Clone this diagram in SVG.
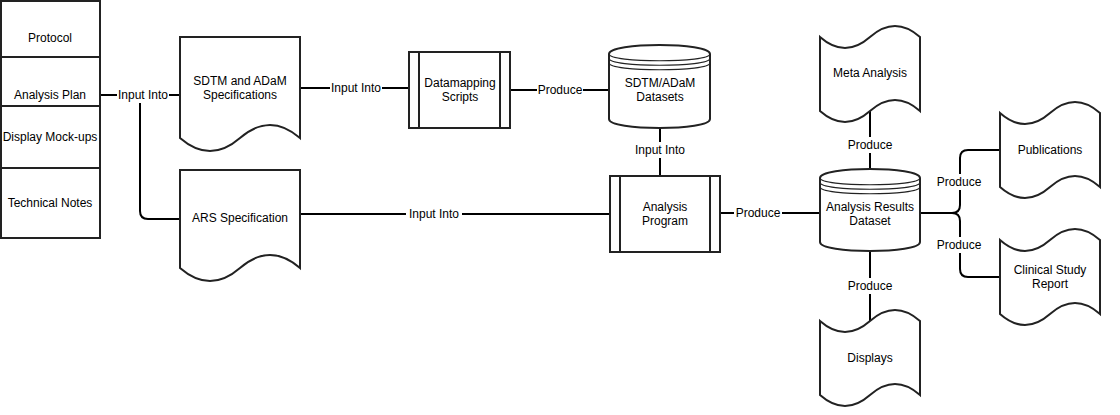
<svg xmlns="http://www.w3.org/2000/svg" width="1120" height="415" viewBox="0 0 1120 415">
<style>
.s{fill:#fff;stroke:#222;stroke-width:2}
.l{fill:none;stroke:#222;stroke-width:2}
.e{fill:none;stroke:#222;stroke-width:1.2}
.c{fill:none;stroke:#000;stroke-width:2}
text{font-family:"Liberation Sans",Arial,sans-serif;font-size:12px;fill:#000;text-anchor:middle}
.bg{fill:#fff}
</style>
<defs>
<path id="tape" d="M0,0 Q25,22 50,0 Q75,-22 100,0 V74 Q75,52 50,74 Q25,96 0,74 Z"/>
</defs>
<rect width="1120" height="415" fill="#fff"/>
<g id="connectors">
<path class="c" d="M100,95 H180"/>
<path class="c" d="M140,95 V211 Q140,219 148,219 H180"/>
<path class="c" d="M300,88 H409"/>
<path class="c" d="M510,90 H609"/>
<path class="c" d="M660,128 V176"/>
<path class="c" d="M300,214 H610"/>
<path class="c" d="M720,213 H820"/>
<path class="c" d="M870,111 V169"/>
<path class="c" d="M870,251 V321"/>
<path class="c" d="M920,213 H952 Q960,213 960,205 V158 Q960,150 968,150 H1000"/>
<path class="c" d="M952,213 Q960,213 960,221 V269 Q960,277 968,277 H1000"/>
<g>
<rect class="bg" x="117" y="87" width="52" height="16"/><text x="143" y="99">Input Into</text>
<rect class="bg" x="330" y="80" width="52" height="16"/><text x="356" y="92">Input Into</text>
<rect class="bg" x="537" y="82" width="46" height="16"/><text x="560" y="94">Produce</text>
<rect class="bg" x="634" y="142" width="52" height="16"/><text x="660" y="154">Input Into</text>
<rect class="bg" x="406" y="206" width="56" height="16"/><text x="434" y="218">Input Into</text>
<rect class="bg" x="734" y="205" width="48" height="16"/><text x="758" y="217">Produce</text>
<rect class="bg" x="847" y="137" width="46" height="16"/><text x="870" y="149">Produce</text>
<rect class="bg" x="847" y="278" width="46" height="16"/><text x="870" y="290">Produce</text>
<rect class="bg" x="936" y="174" width="46" height="16"/><text x="959" y="186">Produce</text>
<rect class="bg" x="936" y="237" width="46" height="16"/><text x="959" y="249">Produce</text>
</g>
</g>
<g id="protocol"><rect class="s" x="1" y="1" width="99" height="56"/><text x="50" y="42">Protocol</text></g>
<g id="analysis-plan"><rect class="s" x="1" y="57" width="99" height="49"/><text x="50" y="99">Analysis Plan</text></g>
<g id="display-mockups"><rect class="s" x="1" y="106" width="99" height="62"/><text x="50" y="141">Display Mock-ups</text></g>
<g id="technical-notes"><rect class="s" x="1" y="168" width="99" height="70"/><text x="50" y="207">Technical Notes</text></g>
<g id="sdtm-adam-spec"><path class="s" d="M180,37 H300 V138 Q270,112 240,138 Q210,164 180,138 Z"/><text x="240" y="85">SDTM and ADaM</text><text x="240" y="99">Specifications</text></g>
<g id="ars-spec"><path class="s" d="M180,170 H300 V268 Q270,242 240,268 Q210,294 180,268 Z"/><text x="240" y="222">ARS Specification</text></g>
<g id="datamapping"><rect class="s" x="409" y="52" width="101" height="76"/><path class="l" d="M419,52 V128 M500,52 V128"/><text x="460" y="87">Datamapping</text><text x="460" y="101">Scripts</text></g>
<g id="sdtm-datasets"><path class="s" d="M609,54 C609,42 710,42 710,54 L710,119 C710,131 609,131 609,119 Z"/><path class="e" d="M609,54 C609,63 710,63 710,54 M609,58.5 C609,67.5 710,67.5 710,58.5 M609,63 C609,72 710,72 710,63"/><text x="660" y="87">SDTM/ADaM</text><text x="660" y="101">Datasets</text></g>
<g id="analysis-program"><rect class="s" x="610" y="176" width="110" height="76"/><path class="l" d="M620,176 V252 M710,176 V252"/><text x="665" y="211">Analysis</text><text x="665" y="225">Program</text></g>
<g id="ard"><path class="s" d="M820,178 C820,166 920,166 920,178 L920,242 C920,254 820,254 820,242 Z"/><path class="e" d="M820,178 C820,187 920,187 920,178 M820,182.5 C820,191.5 920,191.5 920,182.5 M820,187 C820,196 920,196 920,187"/><text x="870" y="211">Analysis Results</text><text x="870" y="225">Dataset</text></g>
<g id="meta-analysis"><use href="#tape" class="s" x="820" y="37"/><text x="870" y="77">Meta Analysis</text></g>
<g id="publications"><use href="#tape" class="s" x="1000" y="113"/><text x="1050" y="154">Publications</text></g>
<g id="csr"><use href="#tape" class="s" x="1000" y="240"/><text x="1050" y="274">Clinical Study</text><text x="1050" y="288">Report</text></g>
<g id="displays"><use href="#tape" class="s" x="820" y="321"/><text x="870" y="362">Displays</text></g>
</svg>
